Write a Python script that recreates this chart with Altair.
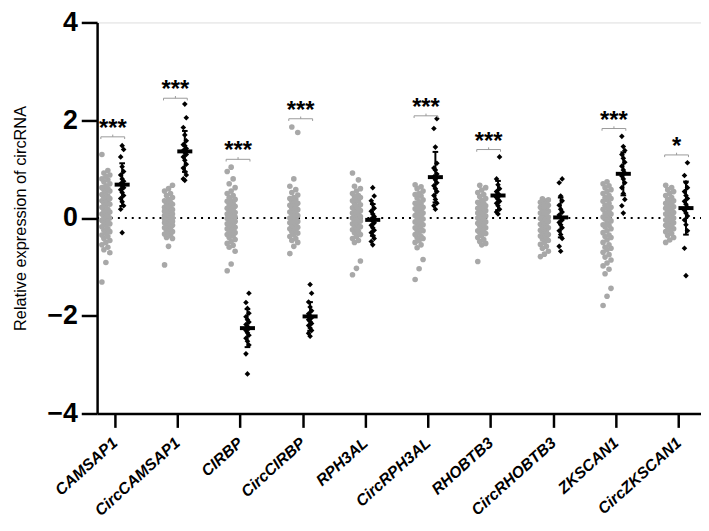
import json
import altair as alt
import pandas as pd

categories = ["CAMSAP1", "CircCAMSAP1", "CIRBP", "CircCIRBP", "RPH3AL",
              "CircRPH3AL", "RHOBTB3", "CircRHOBTB3", "ZKSCAN1", "CircZKSCAN1"]

# grey group (many samples) and black group (fewer samples) for each gene
camsap1_gray = [1.30, 0.97, 0.92, 0.88, 0.85, 0.80, 0.78, 0.74, 0.70, 0.66, 0.62, 0.58, 0.55, 0.52,
                0.48, 0.45, 0.42, 0.38, 0.35, 0.32, 0.28, 0.25, 0.22, 0.18, 0.15, 0.12, 0.08, 0.05,
                0.02, -0.02, -0.05, -0.08, -0.12, -0.15, -0.18, -0.22, -0.25, -0.28, -0.32, -0.35,
                -0.38, -0.42, -0.46, -0.50, -0.55, -0.60, -0.65, -0.71, -0.91, -1.31, 0.30, 0.10,
                0.00, -0.10, 0.60, 0.40]
camsap1_black = [1.48, 1.40, 1.25, 1.05, 0.95, 0.88, 0.80, 0.75, 0.70, 0.66, 0.62, 0.58, 0.52, 0.46,
                 0.40, 0.33, 0.25, 0.18, -0.30]

circcamsap1_gray = [0.67, 0.60, 0.55, 0.50, 0.46, 0.42, 0.38, 0.35, 0.32, 0.28, 0.25, 0.22, 0.20,
                    0.17, 0.15, 0.12, 0.10, 0.08, 0.05, 0.03, 0.01, -0.01, -0.03, -0.05, -0.07,
                    -0.10, -0.12, -0.14, -0.17, -0.20, -0.22, -0.25, -0.28, -0.30, -0.33, -0.36,
                    -0.40, -0.42, -0.58, -0.96, 0.00, 0.06, -0.08, 0.14, 0.30, -0.15, 0.18, -0.02]
circcamsap1_black = [2.33, 2.05, 1.85, 1.70, 1.58, 1.50, 1.48, 1.42, 1.38, 1.34, 1.30, 1.25, 1.18,
                     1.10, 1.02, 0.95, 0.88, 0.80, 0.77]

cirbp_gray = [1.04, 0.95, 0.80, 0.70, 0.62, 0.55, 0.50, 0.46, 0.42, 0.38, 0.34, 0.30, 0.27, 0.24,
              0.20, 0.17, 0.14, 0.11, 0.08, 0.05, 0.02, -0.01, -0.04, -0.07, -0.10, -0.13, -0.16,
              -0.19, -0.22, -0.25, -0.28, -0.31, -0.34, -0.37, -0.40, -0.44, -0.48, -0.52, -0.56,
              -0.60, -0.68, -0.94, -1.08, 0.00, -0.05, 0.10, 0.22, -0.20, -0.30, 0.35, -0.12, 0.04]
cirbp_black = [-1.54, -1.73, -1.85, -1.95, -2.02, -2.08, -2.13, -2.18, -2.22, -2.26, -2.30, -2.35,
               -2.40, -2.46, -2.52, -2.60, -2.78, -3.19]

circcirbp_gray = [1.86, 1.75, 0.80, 0.65, 0.58, 0.52, 0.47, 0.42, 0.38, 0.34, 0.30, 0.26, 0.23, 0.20,
                  0.17, 0.14, 0.11, 0.08, 0.05, 0.02, -0.01, -0.04, -0.07, -0.10, -0.13, -0.16,
                  -0.19, -0.22, -0.25, -0.28, -0.31, -0.34, -0.38, -0.42, -0.46, -0.50, -0.58,
                  -0.73, 0.00, 0.12, -0.08, 0.28, -0.20, 0.40]
circcirbp_black = [-1.36, -1.54, -1.72, -1.82, -1.90, -1.96, -2.00, -2.04, -2.08, -2.12, -2.16,
                   -2.20, -2.25, -2.30, -2.36, -2.42]

rph3al_gray = [0.92, 0.78, 0.65, 0.60, 0.55, 0.50, 0.46, 0.42, 0.38, 0.34, 0.30, 0.27, 0.24, 0.21,
               0.18, 0.15, 0.12, 0.09, 0.06, 0.03, 0.00, -0.03, -0.06, -0.09, -0.12, -0.15, -0.18,
               -0.21, -0.24, -0.27, -0.30, -0.34, -0.38, -0.42, -0.46, -0.50, -0.88, -1.03, -1.16,
               0.10, -0.05, 0.20, 0.35, -0.15, 0.02, 0.44]
rph3al_black = [0.62, 0.45, 0.35, 0.28, 0.20, 0.14, 0.08, 0.03, -0.02, -0.06, -0.10, -0.15, -0.20,
                -0.25, -0.30, -0.36, -0.42, -0.48, -0.55]

circrph3al_gray = [0.68, 0.64, 0.60, 0.55, 0.50, 0.45, 0.41, 0.37, 0.33, 0.29, 0.25, 0.22, 0.19,
                   0.16, 0.13, 0.10, 0.07, 0.04, 0.01, -0.02, -0.05, -0.08, -0.11, -0.14, -0.17,
                   -0.20, -0.23, -0.26, -0.30, -0.34, -0.38, -0.42, -0.46, -0.50, -0.55, -0.61,
                   -0.85, -1.04, -1.26, 0.05, -0.10, 0.20, 0.30, -0.25, 0.48, -0.40]
circrph3al_black = [2.03, 1.83, 1.45, 1.12, 1.02, 0.98, 0.90, 0.84, 0.78, 0.72, 0.66, 0.60, 0.54,
                    0.46, 0.38, 0.30, 0.25, 0.18]

rhobtb3_gray = [0.67, 0.62, 0.57, 0.52, 0.48, 0.44, 0.40, 0.36, 0.32, 0.28, 0.25, 0.22, 0.19, 0.16,
                0.13, 0.10, 0.07, 0.04, 0.01, -0.02, -0.05, -0.08, -0.11, -0.14, -0.17, -0.20,
                -0.23, -0.26, -0.29, -0.32, -0.36, -0.40, -0.44, -0.48, -0.52, -0.55, -0.89, 0.05,
                -0.10, 0.15, 0.30, -0.30, 0.00, 0.20]
rhobtb3_black = [1.25, 0.80, 0.68, 0.60, 0.54, 0.50, 0.46, 0.42, 0.38, 0.34, 0.30, 0.25, 0.18,
                 0.12, 0.08]

circrhobtb3_gray = [0.39, 0.37, 0.35, 0.32, 0.29, 0.26, 0.23, 0.20, 0.17, 0.14, 0.11, 0.08, 0.05,
                    0.02, -0.01, -0.04, -0.07, -0.10, -0.13, -0.16, -0.19, -0.22, -0.25, -0.28,
                    -0.31, -0.34, -0.37, -0.40, -0.43, -0.46, -0.50, -0.54, -0.58, -0.62, -0.68,
                    -0.74, -0.79, 0.00, 0.10, -0.20, 0.30, -0.05, 0.22, -0.35]
circrhobtb3_black = [0.80, 0.72, 0.45, 0.35, 0.26, 0.18, 0.12, 0.06, 0.01, -0.04, -0.09, -0.14,
                     -0.20, -0.26, -0.34, -0.42, -0.58, -0.68]

zkscan1_gray = [0.74, 0.70, 0.66, 0.62, 0.58, 0.54, 0.50, 0.46, 0.42, 0.38, 0.34, 0.30, 0.26, 0.22,
                0.18, 0.14, 0.10, 0.06, 0.02, -0.02, -0.06, -0.10, -0.14, -0.18, -0.22, -0.26,
                -0.30, -0.35, -0.40, -0.45, -0.50, -0.55, -0.60, -0.65, -0.70, -0.75, -0.80, -0.86,
                -0.92, -0.98, -1.05, -1.14, -1.44, -1.60, -1.79, 0.00, 0.20, -0.15, 0.40, -0.38,
                0.08, -0.62]
zkscan1_black = [1.67, 1.46, 1.38, 1.30, 1.22, 1.14, 1.06, 0.98, 0.92, 0.86, 0.80, 0.72, 0.62, 0.50,
                 0.38, 0.25, 0.10]

circzkscan1_gray = [0.67, 0.62, 0.58, 0.54, 0.50, 0.46, 0.42, 0.38, 0.35, 0.32, 0.29, 0.26, 0.23,
                    0.20, 0.17, 0.14, 0.11, 0.08, 0.05, 0.02, -0.01, -0.04, -0.07, -0.10, -0.13,
                    -0.16, -0.19, -0.22, -0.25, -0.28, -0.32, -0.36, -0.40, -0.45, -0.50, 0.00,
                    0.10, 0.20, -0.05, 0.30, -0.15]
circzkscan1_black = [1.13, 0.87, 0.72, 0.62, 0.54, 0.46, 0.40, 0.34, 0.28, 0.22, 0.16, 0.10, 0.04,
                     -0.04, -0.14, -0.26, -0.62, -1.18]

gray_groups = [camsap1_gray, circcamsap1_gray, cirbp_gray, circcirbp_gray, rph3al_gray,
               circrph3al_gray, rhobtb3_gray, circrhobtb3_gray, zkscan1_gray, circzkscan1_gray]
black_groups = [camsap1_black, circcamsap1_black, cirbp_black, circcirbp_black, rph3al_black,
                circrph3al_black, rhobtb3_black, circrhobtb3_black, zkscan1_black, circzkscan1_black]

sig_labels = ["***", "***", "***", "***", "", "***", "***", "", "***", "*"]
bracket_y = [1.66, 2.45, 1.20, 2.03, None, 2.09, 1.40, None, 1.83, 1.29]

# ---------------- layout constants ----------------
STEP_PX = 63.3
GRAY_OFF = -0.14
BLACK_OFF = 0.12
XMIN, XMAX = -0.28, 9.36
gray_jit = [-4, 0, 4, -2, 2]
black_jit = [0, -1.5, 1.5]

rows_g, rows_b, rows_stat, rows_br, rows_txt = [], [], [], [], []
for i, cat in enumerate(categories):
    for k, v in enumerate(sorted(gray_groups[i])):
        rows_g.append({"x": i + GRAY_OFF + gray_jit[k % len(gray_jit)] / STEP_PX, "y": v, "cat": cat})
    vals = sorted(black_groups[i])
    for k, v in enumerate(vals):
        rows_b.append({"x": i + BLACK_OFF + black_jit[k % len(black_jit)] / STEP_PX, "y": v, "cat": cat})
    s = pd.Series(black_groups[i])
    m, sd = s.mean(), s.std()
    xc = i + BLACK_OFF
    rows_stat.append({"x": xc, "x1": xc - 0.12, "x2": xc + 0.12, "m": m, "lo": m - sd, "hi": m + sd,
                      "c1": xc - 0.045, "c2": xc + 0.045})
    if sig_labels[i]:
        b = bracket_y[i]
        xl, xr, xm = i - 0.22, i + 0.16, i - 0.03
        rows_br += [
            {"x": xl, "x2": xr, "y": b, "y2": b},
            {"x": xl, "x2": xl, "y": b, "y2": b - 0.045},
            {"x": xr, "x2": xr, "y": b, "y2": b - 0.045},
            {"x": xm, "x2": xm, "y": b, "y2": b + 0.045},
        ]
        rows_txt.append({"x": xm, "y": b, "t": sig_labels[i]})

df_g = pd.DataFrame(rows_g)
df_b = pd.DataFrame(rows_b)
df_s = pd.DataFrame(rows_stat)
df_br = pd.DataFrame(rows_br)
df_t = pd.DataFrame(rows_txt)

FONT = "Liberation Sans"
xscale = alt.Scale(domain=[XMIN, XMAX], nice=False, zero=False)
yscale = alt.Scale(domain=[-4, 4], nice=False, zero=False)
xaxis = alt.Axis(values=list(range(len(categories))),
                 labelExpr=json.dumps(categories) + "[datum.value]",
                 title=None, grid=False, labelAngle=-42, labelAlign="right",
                 labelBaseline="middle", labelFont=FONT, labelFontSize=16,
                 labelFontWeight="bold", labelFontStyle="italic", labelColor="black",
                 labelPadding=13, tickSize=14, tickWidth=2.5, tickColor="black",
                 domainColor="black", domainWidth=2.5, labelOverlap=False, labelFlush=False)
yaxis = alt.Axis(values=[-4, -2, 0, 2, 4], title="Relative expression of circRNA", grid=False,
                 labelFont=FONT, labelFontSize=27, labelFontWeight="bold", labelColor="black",
                 labelPadding=4, tickSize=16, tickWidth=2.5, tickColor="black",
                 domainColor="black", domainWidth=2.5, titleFont=FONT, titleFontSize=16.5,
                 titleFontWeight="normal", titleColor="black", titlePadding=19)

X = lambda f="x": alt.X(f, type="quantitative", scale=xscale, axis=xaxis)
Y = lambda f="y": alt.Y(f, type="quantitative", scale=yscale, axis=yaxis)

zero = alt.Chart(pd.DataFrame({"x": [XMIN], "x2": [XMAX], "y": [0]})).mark_rule(
    color="black", strokeWidth=2, strokeDash=[2, 5]).encode(x=X(), x2="x2", y=Y())

gray = alt.Chart(df_g).mark_point(shape="circle", filled=True, size=32, color="#a8a8a8",
                                  opacity=1).encode(x=X(), y=Y())
black = alt.Chart(df_b).mark_point(shape="diamond", filled=True, size=32, color="black",
                                   opacity=1).encode(x=X(), y=Y())
mean_bar = alt.Chart(df_s).mark_rule(color="black", strokeWidth=4).encode(
    x=X("x1"), x2="x2", y=Y("m"))
sd_bar = alt.Chart(df_s).mark_rule(color="black", strokeWidth=2).encode(
    x=X("x"), y=Y("lo"), y2="hi")
cap_hi = alt.Chart(df_s).mark_rule(color="black", strokeWidth=2).encode(
    x=X("c1"), x2="c2", y=Y("hi"))
cap_lo = alt.Chart(df_s).mark_rule(color="black", strokeWidth=2).encode(
    x=X("c1"), x2="c2", y=Y("lo"))
brackets = alt.Chart(df_br).mark_rule(color="#9a9a9a", strokeWidth=1).encode(
    x=X(), x2="x2", y=Y(), y2="y2")
stars = alt.Chart(df_t).mark_text(font=FONT, fontSize=24, fontWeight="bold", color="black",
                                  baseline="alphabetic", align="center", dy=-1).encode(
    x=X(), y=Y(), text="t:N")

chart = alt.layer(zero, gray, black, sd_bar, cap_hi, cap_lo, mean_bar, brackets, stars).properties(
    width=610, height=395,
    autosize=alt.AutoSizeParams(type="none"),
    padding={"left": 90, "top": 12, "right": 0, "bottom": 108},
).configure_view(stroke=None).configure(background="white")

chart.save("out.html", embed_options={"renderer": "svg", "actions": False})
